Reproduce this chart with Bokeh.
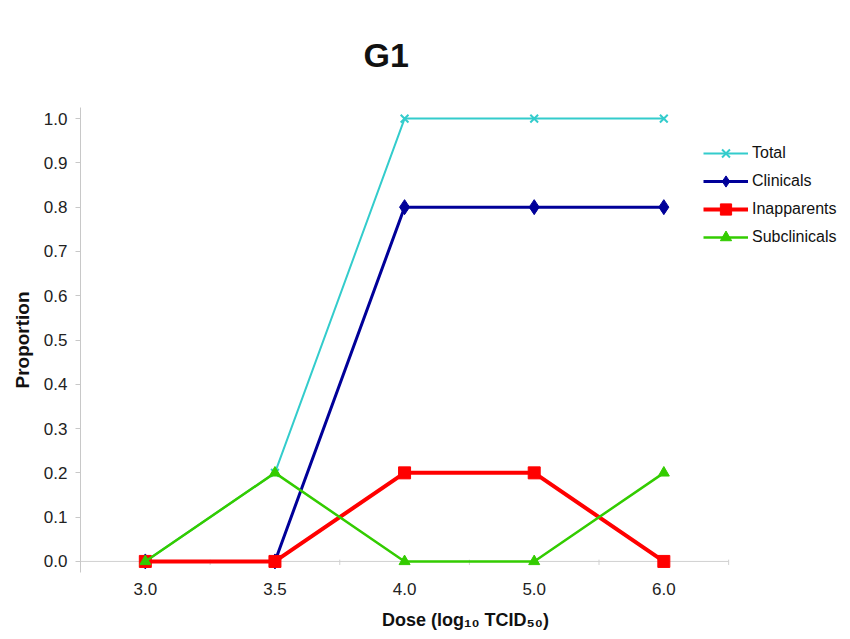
from bokeh.plotting import figure
from bokeh.models import Range1d, Legend, LegendItem, Title, FixedTicker, CustomJSTickFormatter
from bokeh.embed import file_html
from bokeh.resources import INLINE

doses = ["3.0", "3.5", "4.0", "5.0", "6.0"]
total = [0.0, 0.2, 1.0, 1.0, 1.0]
clinicals = [0.0, 0.0, 0.8, 0.8, 0.8]
inapparents = [0.0, 0.0, 0.2, 0.2, 0.0]
subclinicals = [0.0, 0.2, 0.0, 0.0, 0.2]
y_ticks = [0.0, 0.1, 0.2, 0.3, 0.4, 0.5, 0.6, 0.7, 0.8, 0.9, 1.0]

FONT = "Liberation Sans"

# category positions (equally spaced categories, as in a category axis)
xs = list(range(len(doses)))
n = len(doses)

p = figure(width=850, height=639, output_backend="svg", toolbar_location=None,
           x_range=Range1d(-0.5, n - 0.5 + 0.94),
           y_range=Range1d(-0.025, 1.025),
           min_border_left=80, min_border_right=0,
           min_border_top=107, min_border_bottom=67)
p.title = None
p.add_layout(Title(text="G1", text_font=FONT, text_font_size="34px",
                   text_font_style="bold", align="left", offset=283,
                   vertical_align="top", standoff=64,
                   text_color="#111111"), "above")

p.xgrid.visible = False
p.ygrid.visible = False
p.outline_line_color = None

# y axis
p.yaxis.ticker = y_ticks
p.yaxis.formatter = CustomJSTickFormatter(code="return tick.toFixed(1);")
p.yaxis.axis_line_color = "#c8c8c8"
p.yaxis.major_tick_line_color = "#c8c8c8"
p.yaxis.major_tick_out = 5
p.yaxis.major_tick_in = 0
p.yaxis.minor_tick_line_color = None
p.yaxis.major_label_text_font = FONT
p.yaxis.major_label_text_font_size = "17px"
p.yaxis.major_label_text_color = "#222222"
p.yaxis.major_label_standoff = 8
p.yaxis.axis_label = "Proportion"
p.yaxis.axis_label_text_font = FONT
p.yaxis.axis_label_text_font_size = "19px"
p.yaxis.axis_label_text_font_style = "bold"
p.yaxis.axis_label_text_color = "#111111"
p.yaxis.axis_label_standoff = 8

# x axis: category labels
p.xaxis.ticker = FixedTicker(ticks=xs)
p.xaxis.major_label_overrides = {i: d for i, d in zip(xs, doses)}
p.xaxis.axis_line_color = None
p.xaxis.major_tick_line_color = None
p.xaxis.minor_tick_line_color = None
p.xaxis.major_tick_out = 0
p.xaxis.major_tick_in = 0
p.xaxis.major_label_text_font = FONT
p.xaxis.major_label_text_font_size = "17px"
p.xaxis.major_label_text_color = "#222222"
p.xaxis.major_label_standoff = 10
p.xaxis.axis_label = "Dose (log\u2081\u2080 TCID\u2085\u2080)"
p.xaxis.axis_label_text_font = FONT
p.xaxis.axis_label_text_font_size = "18px"
p.xaxis.axis_label_text_font_style = "bold"
p.xaxis.axis_label_text_color = "#111111"
p.xaxis.axis_label_standoff = 12

# baseline (category axis line at y = 0) with tick marks between categories
p.segment(x0=[-0.5], y0=[0], x1=[n - 0.5], y1=[0], line_color="#d0d0d0", line_width=1)
bounds = [i + 0.5 for i in range(-1, n)]
p.segment(x0=bounds, y0=[-0.008] * len(bounds), x1=bounds, y1=[0.004] * len(bounds),
          line_color="#d0d0d0", line_width=1)

r_tl = p.line(xs, total, line_color="#33CCCC", line_width=2)
r_tm = p.scatter(xs, total, marker="x", size=11, line_color="#33CCCC", line_width=2)
r_cl = p.line(xs, clinicals, line_color="#000099", line_width=3)
r_cm = p.scatter(xs, clinicals, marker="diamond", size=15, fill_color="#000099", line_color="#000099")
r_il = p.line(xs, inapparents, line_color="#FF0000", line_width=4)
r_im = p.scatter(xs, inapparents, marker="square", size=12, fill_color="#FF0000", line_color="#FF0000")
r_sl = p.line(xs, subclinicals, line_color="#33CC00", line_width=2.5)
r_sm = p.scatter(xs, subclinicals, marker="triangle", size=11, fill_color="#33CC00", line_color="#33CC00")

legend = Legend(items=[
    LegendItem(label="Total", renderers=[r_tl, r_tm]),
    LegendItem(label="Clinicals", renderers=[r_cl, r_cm]),
    LegendItem(label="Inapparents", renderers=[r_il, r_im]),
    LegendItem(label="Subclinicals", renderers=[r_sl, r_sm]),
], location=(623, 321), orientation="vertical")
legend.background_fill_alpha = 0
legend.border_line_color = None
legend.padding = 0
legend.margin = 0
legend.spacing = 0
legend.glyph_width = 45
legend.glyph_height = 28
legend.label_height = 28
legend.label_standoff = 4
legend.label_text_font = FONT
legend.label_text_font_size = "16px"
legend.label_text_color = "#111111"
p.add_layout(legend, "center")

open("out.html", "w").write(file_html(p, INLINE))
